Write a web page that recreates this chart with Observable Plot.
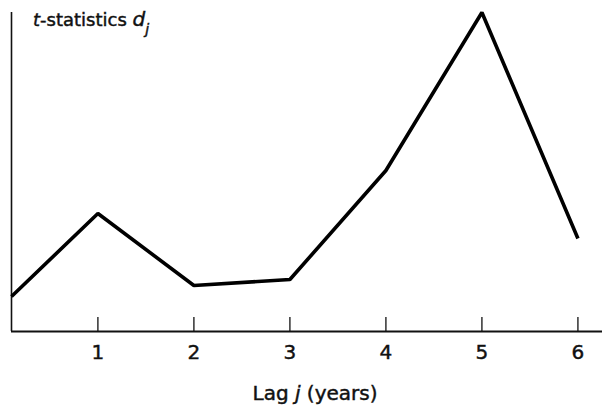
<!DOCTYPE html>
<html>
<head>
<meta charset="utf-8">
<script src="https://cdn.jsdelivr.net/npm/d3@7"></script>
<script src="https://cdn.jsdelivr.net/npm/@observablehq/plot@0.6"></script>
<style>
  html, body { margin: 0; padding: 0; background: #fff; }
  svg { font-family: "DejaVu Sans", sans-serif; }
  svg text { stroke: #111; stroke-width: 0.45px; }
</style>
</head>
<body>
<div id="chart"></div>
<script>
// Data
const lags = [0.1, 1, 2, 3, 4, 5, 6];
const tStats = [0.35, 1.18, 0.46, 0.52, 1.61, 3.19, 0.93];
const xTicks = [1, 2, 3, 4, 5, 6];
const xTickLabels = ["1", "2", "3", "4", "5", "6"];

const data = lags.map((x, i) => ({lag: x, t: tStats[i]}));

const chart = Plot.plot({
  width: 602,
  height: 407,
  marginLeft: 11,
  marginRight: 0,
  marginTop: 12,
  marginBottom: 76,
  style: {background: "#fff", color: "#111", fontFamily: "DejaVu Sans, sans-serif"},
  x: {domain: [0.1, 6.256]},
  y: {domain: [0, 3.19]},
  marks: [
    Plot.axisY({ticks: [], label: null}),
    Plot.axisX(xTicks, {tickSize: 14, dy: -14, tickFormat: () => "", label: null, strokeWidth: 1.3}),
    Plot.axisX(xTicks, {tickSize: 0, tickPadding: 13, fontSize: 20, label: null,
      tickFormat: (d) => xTickLabels[xTicks.indexOf(d)]}),
    Plot.ruleY([0], {stroke: "#111", strokeWidth: 2}),
    Plot.ruleX([0.1], {stroke: "#111", strokeWidth: 1.6}),
    Plot.line(data, {x: "lag", y: "t", stroke: "#000", strokeWidth: 3.6, strokeLinejoin: "miter", strokeLinecap: "butt"})
  ]
});

document.getElementById("chart").appendChild(chart);

const svg = d3.select(chart);
// y-axis title
const yt = svg.append("text")
  .attr("x", 33).attr("y", 26)
  .attr("text-anchor", "start")
  .attr("font-size", 18).attr("fill", "#111")
  .style("font-family", "DejaVu Sans, sans-serif");
yt.append("tspan").attr("font-style", "italic").text("t");
yt.append("tspan").text("-statistics ");
yt.append("tspan").attr("font-style", "italic").attr("font-size", 20).text("d");
yt.append("tspan").attr("font-style", "italic").attr("font-size", 14).attr("dy", 8).text("j");

// x-axis title
const xt = svg.append("text")
  .attr("x", 315).attr("y", 400)
  .attr("text-anchor", "middle")
  .attr("font-size", 20).attr("fill", "#111")
  .style("font-family", "DejaVu Sans, sans-serif");
xt.append("tspan").text("Lag ");
xt.append("tspan").attr("font-style", "italic").text("j");
xt.append("tspan").text(" (years)");
</script>
</body>
</html>
